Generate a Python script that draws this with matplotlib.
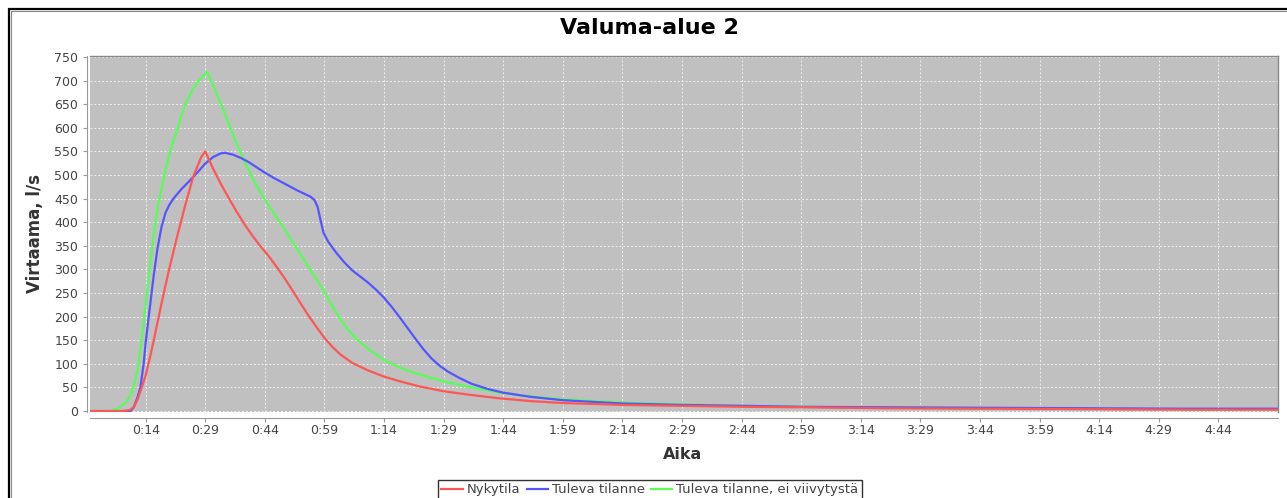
import matplotlib
matplotlib.use('Agg')
import matplotlib.pyplot as plt
from matplotlib.patches import Rectangle

plt.rcParams['font.family'] = ['DejaVu Sans']

# aika minuutteina, virtaama l/s (luettu kuvasta)
red_t = [0, 5, 8, 10, 11, 12, 13, 14, 15, 16, 17, 18, 19, 20, 22, 24, 26, 28, 29,
         31, 33, 35, 37, 39, 41, 43, 45, 47, 49, 51, 53, 55, 57, 59, 61, 63, 66, 70, 74, 78,
         83, 89, 95, 103, 111, 119, 134, 149, 165, 179, 200, 225, 250, 275, 299]
red_v = [0, 0, 0, 2, 8, 25, 50, 75, 110, 148, 188, 228, 266, 303, 372, 437, 497, 538, 550,
         513, 480, 450, 421, 394, 370, 348, 328, 305, 281, 255, 228, 202, 178, 155, 136, 120, 102, 86, 73, 63,
         52, 42, 35, 27, 21, 17, 13, 11, 9, 8, 6, 5, 4, 3, 3]

blue_t = [0, 5, 10.2, 11, 12, 12.7, 13.5, 14, 15, 16, 17, 18, 19, 20, 21, 23, 25, 27, 29, 31,
          33, 34, 36, 38, 40, 42, 44, 46, 48, 50, 52, 54, 55.5, 56.5, 57.3, 58, 58.8, 60, 62, 64,
          66, 68, 70, 72, 74, 76, 78, 80, 82, 84, 86, 88, 90, 93, 96, 100, 104, 111, 119, 134,
          149, 165, 179, 200, 225, 250, 275, 299]
blue_v = [0, 0, 0, 8, 30, 51, 100, 144, 215, 285, 345, 390, 420, 437, 450, 470, 487, 505, 524, 538,
          546, 547, 543, 536, 527, 516, 505, 495, 486, 477, 468, 460, 454, 447, 432, 405, 377, 358, 335, 315,
          298, 285, 272, 257, 240, 220, 198, 175, 152, 130, 111, 96, 84, 70, 58, 47, 39, 30, 23, 16,
          13, 11, 9, 8, 7, 6, 5, 5]

green_t = [0, 5, 7, 9, 10, 11, 12, 13, 14, 15, 16, 17, 18, 19, 20.3, 22, 24, 26, 28, 29.5,
           31, 33, 35, 37, 39, 41, 43, 45, 47, 49, 51, 53, 55, 57, 59, 61, 63, 65, 67, 70, 74,
           78, 82, 86, 90, 95, 103, 111, 119, 134, 149, 165, 179, 200, 225, 250, 275, 299]
green_v = [0, 0, 5, 18, 30, 52, 88, 150, 225, 300, 370, 430, 470, 510, 555, 598, 650, 683, 706, 718,
           690, 650, 607, 565, 527, 492, 462, 435, 410, 385, 358, 332, 305, 280, 252, 222, 195, 172, 153, 132, 108,
           92, 80, 70, 61, 52, 39, 31, 25, 18, 14, 11, 9, 7, 6, 5, 4, 4]

names = ['Nykytila', 'Tuleva tilanne', 'Tuleva tilanne, ei viivytystä']
colors = ['#FF5555', '#5555FF', '#55FF55']

tick_min = list(range(14, 285, 15))
tick_lbl = ['%d:%02d' % (m // 60, m % 60) for m in tick_min]
y_ticks = list(range(0, 751, 50))

W, H = 1287, 498
fig = plt.figure(figsize=(W / 100, H / 100), dpi=100)
fig.patch.set_facecolor('white')

# kehys (vain vasen ja ylä näkyvät)
fig.patches.append(Rectangle((8.5 / W, -0.2), 1.3, 1 - 8.5 / H + 0.2, transform=fig.transFigure,
                             fill=False, edgecolor='black', linewidth=1.6))
fig.patches.append(Rectangle((11 / W, -0.2), 1.3, 1 - 11 / H + 0.2, transform=fig.transFigure,
                             fill=False, edgecolor='#888888', linewidth=0.8))

left, right, top, bottom = 90, 1278, 56, 412
ax = fig.add_axes([left / W, 1 - bottom / H, (right - left) / W, (bottom - top) / H])
ax.set_facecolor('#C0C0C0')

ax.plot(green_t, green_v, color=colors[2], lw=1.6, label=names[2], zorder=3)
ax.plot(blue_t, blue_v, color=colors[1], lw=1.6, label=names[1], zorder=4)
ax.plot(red_t, red_v, color=colors[0], lw=1.6, label=names[0], zorder=5)

ax.set_xlim(0, 299)
ax.set_ylim(-2, 752)
ax.set_xticks(tick_min)
ax.set_xticklabels(tick_lbl)
ax.set_yticks(y_ticks)
ax.grid(True, color='#EEEEEE', linestyle=(0, (2, 2)), linewidth=0.7)
ax.set_axisbelow(True)

for s in ['top', 'right']:
    ax.spines[s].set_color('#888888')
    ax.spines[s].set_linewidth(1)
ax.spines['left'].set_position(('outward', 2))
ax.spines['bottom'].set_position(('outward', 4))
ax.spines['left'].set_color('#999999')
ax.spines['bottom'].set_color('#999999')
ax.tick_params(axis='both', colors='#999999', labelcolor='#444444', labelsize=9, length=3, width=0.8)
ax.tick_params(axis='x', pad=2)

fig.text(649 / W, 1 - 28 / H, 'Valuma-alue 2', ha='center', va='center', fontsize=16,
         fontweight='bold', color='black')
fig.text(683 / W, 1 - 454 / H, 'Aika', ha='center', va='center', fontsize=11.5,
         fontweight='bold', color='#333333')
fig.text(35 / W, 1 - 233 / H, 'Virtaama, l/s', ha='center', va='center', rotation=90,
         fontsize=12, fontweight='bold', color='#333333')

h, l = ax.get_legend_handles_labels()
order = [2, 1, 0]
leg = fig.legend([h[i] for i in order], [l[i] for i in order], loc='upper center',
                 bbox_to_anchor=(650 / W, 1 - 480 / H), ncol=3, frameon=True, fancybox=False,
                 fontsize=9.5, handlelength=1.6, handletextpad=0.3, columnspacing=0.5,
                 borderpad=0.25, borderaxespad=0)
leg.get_frame().set_edgecolor('black')
leg.get_frame().set_linewidth(1)
for t in leg.get_texts():
    t.set_color('#444444')

fig.savefig('out.png', dpi=100)
